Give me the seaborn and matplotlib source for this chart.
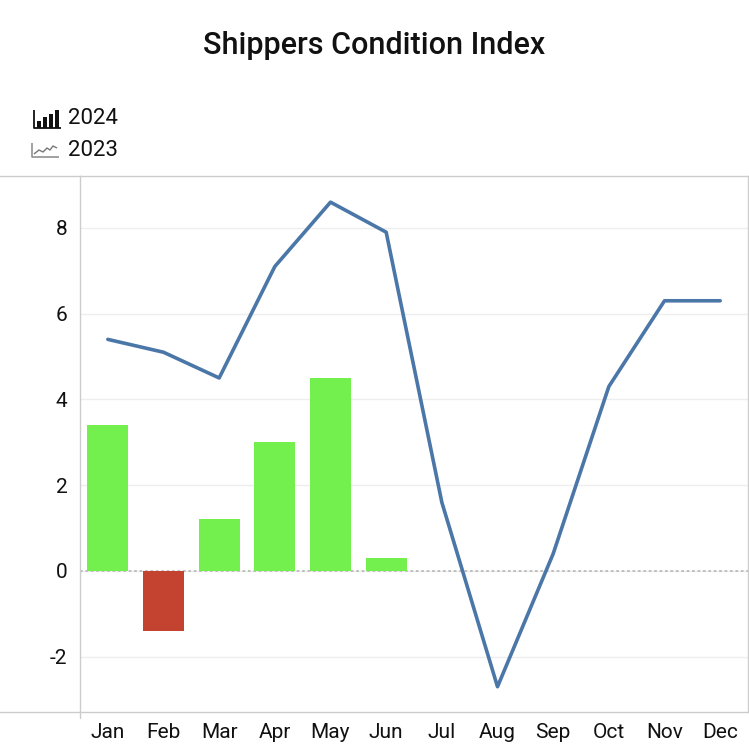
import matplotlib
matplotlib.use("Agg")
import matplotlib.pyplot as plt
from matplotlib.lines import Line2D
from matplotlib.patches import Rectangle
import seaborn as sns
import pandas as pd
import numpy as np

months = ["Jan", "Feb", "Mar", "Apr", "May", "Jun", "Jul", "Aug", "Sep", "Oct", "Nov", "Dec"]
values_2024 = [3.4, -1.4, 1.2, 3.0, 4.5, 0.3]
values_2023 = [5.4, 5.1, 4.5, 7.1, 8.6, 7.9, 1.6, -2.7, 0.4, 4.3, 6.3, 6.3]
yticks = [-2, 0, 2, 4, 6, 8]
title = "Shippers Condition Index"
legend_labels = ["2024", "2023"]

sns.set_theme(style="white")
plt.rcParams["font.family"] = ["Roboto", "DejaVu Sans"]

W = H = 749
fig = plt.figure(figsize=(7.49, 7.49), dpi=100)

def fx(px):
    return px / W

def fy(py):
    return 1 - py / H

ax = fig.add_axes([fx(80), fy(712), fx(748) - fx(80), fy(176) - fy(712)])

df24 = pd.DataFrame({"month": months[:len(values_2024)], "value": values_2024})
df24["sign"] = np.where(df24["value"] >= 0, "pos", "neg")
df23 = pd.DataFrame({"month": months, "value": values_2023, "pos": np.arange(len(months))})

for y in yticks:
    ax.axhline(y, color="#eeeeee", lw=1, zorder=0)
ax.axhline(0, color="#bbbbbb", lw=1.3, ls=(0, (1.5, 1.5)), zorder=1)

sns.barplot(data=df24, x="month", y="value", hue="sign", order=months,
            palette={"pos": "#74f04e", "neg": "#c44230"}, dodge=False,
            width=0.74, legend=False, ax=ax, saturation=1, zorder=2, linewidth=0)
sns.lineplot(data=df23, x="pos", y="value", color="#4b77a8", lw=2.6,
             sort=False, ax=ax, zorder=3)

ax.set_xlim(-0.5, len(months) - 0.5)
ax.set_ylim(-3.29, 9.21)
ax.set_xticks(np.arange(len(months)))
ax.set_xticklabels(months)
ax.set_xticks(np.arange(len(months) + 1) - 0.5, minor=True)
ax.set_yticks(yticks)
ax.set_yticklabels([str(v) for v in yticks])
ax.tick_params(axis="x", which="major", length=0, pad=8, labelsize=15, labelcolor="#111111")
ax.tick_params(axis="x", which="minor", length=5, width=1, color="#e3e3e3", direction="out")
ax.tick_params(axis="y", length=0, pad=9, labelsize=15, labelcolor="#111111")
ax.set_xlabel("")
ax.set_ylabel("")
for s in ["left", "right", "top", "bottom"]:
    ax.spines[s].set_visible(True)
    ax.spines[s].set_color("#cccccc")
    ax.spines[s].set_linewidth(1)

# extend top/bottom border lines to the left edge
fig.add_artist(Line2D([0, fx(80)], [fy(176), fy(176)], color="#cccccc", lw=1, transform=fig.transFigure))
fig.add_artist(Line2D([0, fx(80)], [fy(712), fy(712)], color="#cccccc", lw=1, transform=fig.transFigure))
fig.add_artist(Line2D([fx(80), fx(80)], [fy(712), fy(718)], color="#cccccc", lw=1, transform=fig.transFigure))

fig.text(0.5, fy(45), title, ha="center", va="center", fontsize=22, fontweight="medium", color="#111111")

# legend icons
def rect(x0, y0, x1, y1, color):
    fig.add_artist(Rectangle((fx(x0), fy(y1)), fx(x1) - fx(x0), fy(y0) - fy(y1),
                             color=color, transform=fig.transFigure, lw=0))

def line(xs, ys, color, lw):
    fig.add_artist(Line2D([fx(x) for x in xs], [fy(y) for y in ys], color=color, lw=lw,
                          transform=fig.transFigure, solid_capstyle="butt"))

# bar icon
line([34, 34, 61], [110, 128, 128], "#111111", 1.3)
rect(37, 121, 41, 128, "#111111")
rect(43, 117, 47, 128, "#111111")
rect(49, 114, 53, 128, "#111111")
rect(55, 110, 59, 128, "#111111")
# line icon
line([32, 32, 59], [143, 157, 157], "#888888", 1.1)
line([34, 39, 43, 47, 50, 53, 57], [154, 150, 152, 148, 150, 146, 148], "#777777", 1.0)

fig.text(fx(68), fy(119), legend_labels[0], ha="left", va="center", fontsize=16, color="#111111")
fig.text(fx(68), fy(151), legend_labels[1], ha="left", va="center", fontsize=16, color="#111111")

fig.savefig("out.png", dpi=100)
